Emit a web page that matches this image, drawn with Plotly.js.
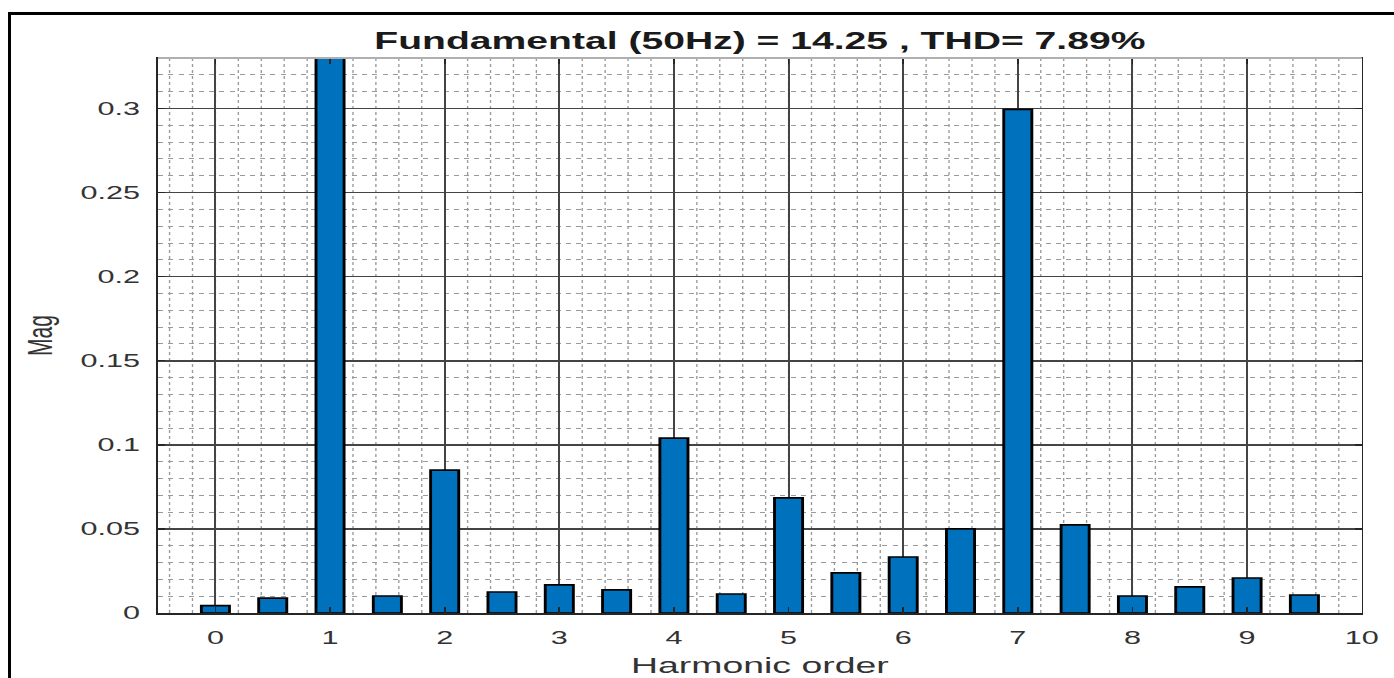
<!DOCTYPE html>
<html>
<head>
<meta charset="utf-8">
<script src="https://cdn.plot.ly/plotly-3.0.1.min.js"></script>
<style>
  html, body { margin: 0; padding: 0; background: #ffffff; overflow: hidden; width: 1394px; height: 678px; }
  #frame { position: absolute; left: 8px; top: 12px; width: 1500px; height: 800px; border: 3px solid #000; box-sizing: border-box; pointer-events: none; }
  #chart { position: absolute; left: 0; top: 0; width: 820px; height: 678px; transform: scaleX(1.7); transform-origin: 0 0; }
</style>
</head>
<body>
<div id="chart"></div>
<div id="frame"></div>
<script>
// Harmonic spectrum data
const harmonicOrder = [0, 0.5, 1, 1.5, 2, 2.5, 3, 3.5, 4, 4.5, 5, 5.5, 6, 6.5, 7, 7.5, 8, 8.5, 9, 9.5];
const magnitude = [0.0044, 0.0089, 14.25, 0.0101, 0.085, 0.0125, 0.0167, 0.0137, 0.104, 0.0113, 0.0685, 0.0238, 0.0333, 0.0500, 0.2994, 0.0524, 0.0101, 0.0155, 0.0208, 0.0107];
const xTickVals = [0, 1, 2, 3, 4, 5, 6, 7, 8, 9, 10];
const yTickVals = [0, 0.05, 0.1, 0.15, 0.2, 0.25, 0.3];
const yTickText = ['0', '0.05', '0.1', '0.15', '0.2', '0.25', '0.3'];
const titleText = 'Fundamental (50Hz) = 14.25 , THD= 7.89%';
const xTitle = 'Harmonic order';
const yTitle = 'Mag';

const trace = {
  type: 'bar',
  x: harmonicOrder,
  y: magnitude,
  width: 0.245,
  marker: { color: '#0072BD', line: { color: '#000000', width: 1.7 } },
  hoverinfo: 'x+y'
};

const tickFont = { family: 'Liberation Sans, Arial, sans-serif', size: 18, color: '#333333' };

const layout = {
  width: 820,
  height: 678,
  margin: { l: 92.94, r: 18.82, t: 58, b: 65, pad: 0 },
  paper_bgcolor: '#ffffff',
  plot_bgcolor: '#ffffff',
  showlegend: false,
  bargap: 0,
  title: {
    text: titleText,
    font: { family: 'Liberation Sans, Arial, sans-serif', size: 23, color: '#1a1a1a', weight: 'bold' },
    xref: 'paper', x: 0.5, xanchor: 'center',
    yref: 'container', y: 1 - 41 / 678, yanchor: 'middle'
  },
  xaxis: {
    range: [-0.5, 10],
    tickmode: 'array',
    tickvals: xTickVals,
    ticktext: xTickVals.map(String),
    tickfont: tickFont,
    ticks: 'inside', ticklen: 6, tickwidth: 1, tickcolor: '#262626',
    ticklabelstandoff: 8,
    showline: true, linecolor: '#262626', linewidth: 1.5, mirror: 'ticks',
    showgrid: true, gridcolor: '#444444', gridwidth: 1.2,
    minor: { dtick: 0.2, tick0: 0, showgrid: true, griddash: 'dot', gridcolor: '#9a9a9a', gridwidth: 0.8 },
    zeroline: false,
    fixedrange: true,
    title: { text: xTitle, font: { family: 'Liberation Sans, Arial, sans-serif', size: 22, color: '#333333' }, standoff: 11 }
  },
  yaxis: {
    range: [0, 0.33],
    tickmode: 'array',
    tickvals: yTickVals,
    ticktext: yTickText,
    tickfont: tickFont,
    ticks: 'inside', ticklen: 4, tickwidth: 1.5, tickcolor: '#262626',
    ticklabelstandoff: 6,
    showline: true, linecolor: '#262626', linewidth: 1, mirror: 'ticks',
    showgrid: true, gridcolor: '#444444', gridwidth: 1.6,
    minor: { dtick: 0.01, tick0: 0, showgrid: true, griddash: 'dot', gridcolor: '#9a9a9a', gridwidth: 1 },
    zeroline: false,
    fixedrange: true,
    title: { text: yTitle, font: { family: 'Liberation Sans, Arial, sans-serif', size: 21, color: '#333333' }, standoff: 10 }
  },
  shapes: [
    { type: 'line', xref: 'paper', yref: 'paper', x0: 0, x1: 1, y0: 1, y1: 1, layer: 'above', line: { color: '#b0b0b0', width: 2 } }
  ]
};

Plotly.newPlot('chart', [trace], layout, { displayModeBar: false, staticPlot: true });
</script>
</body>
</html>
